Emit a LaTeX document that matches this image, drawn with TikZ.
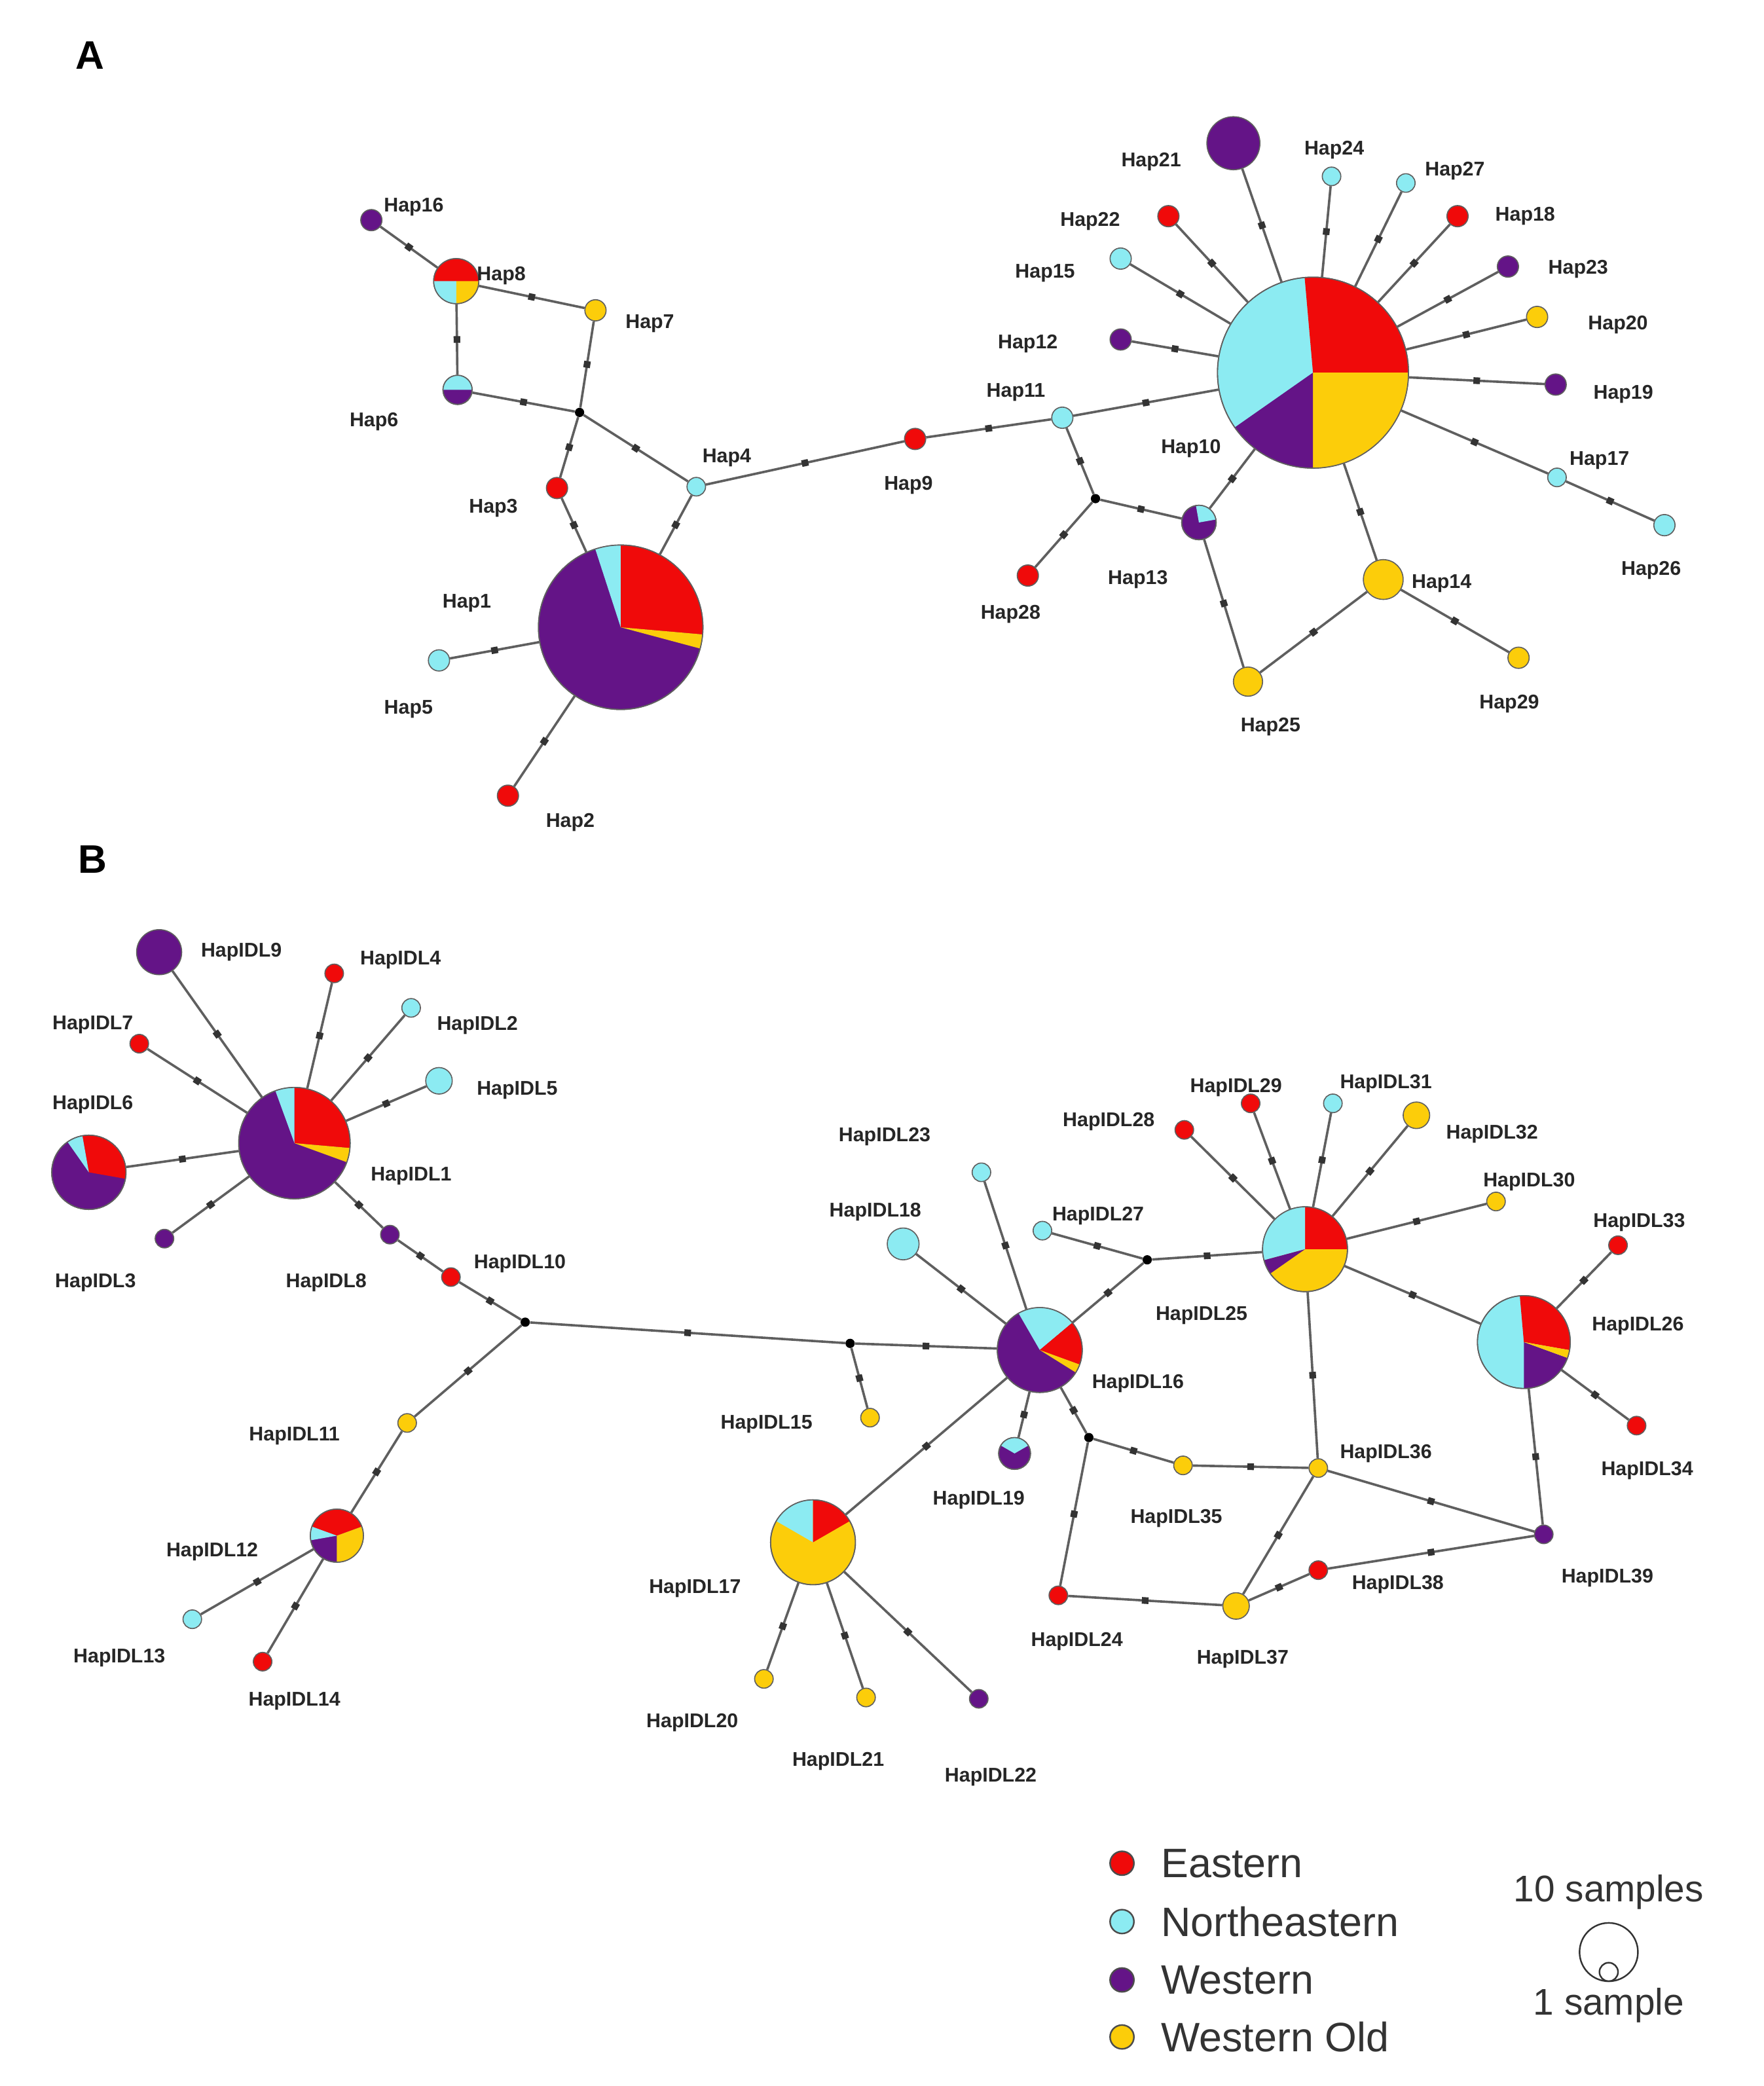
\documentclass[tikz,border=0pt]{standalone}
\usepackage{fontspec}
\setmainfont{Liberation Sans}
\usetikzlibrary{decorations.markings,backgrounds}
\definecolor{cE}{RGB}{240,10,10}
\definecolor{cN}{RGB}{140,235,242}
\definecolor{cW}{RGB}{100,20,135}
\definecolor{cO}{RGB}{252,205,10}
\definecolor{eg}{RGB}{95,95,95}
\tikzset{
 hnode/.style={circle,draw=eg,line width=0.8pt,inner sep=0pt},
 jn/.style={circle,fill=black,inner sep=0pt,minimum size=7pt},
 lb/.style={font=\bfseries\fontsize{15}{15}\selectfont,text=black!85},
 ed/.style={draw=eg,line width=1.8pt,postaction={decorate},
   decoration={markings,mark=at position 0.5 with {\fill[black!80] (-2.5pt,-2.5pt) rectangle (2.5pt,2.5pt);}}},
 outl/.style={draw=eg,line width=0.8pt}
}
\newcommand\hn[5]{\node[hnode,minimum size=#4*2pt,fill=#5] (#1) at (#2,#3) {};}
\newcommand\wedgeX[5]{\fill[#5] (#1.center) -- ++(#3:#2pt) arc[start angle=#3,end angle=#4,radius=#2pt] -- cycle;}
\newcommand\ring[2]{\draw[outl] (#1.center) circle[radius=#2pt];}
\begin{document}
\begin{tikzpicture}[x=1pt,y=-1pt]
\useasboundingbox (0,0) rectangle (1330,1573);
\node[font=\bfseries\fontsize{30}{30}\selectfont] (pA) at (68,42) {A};
\node[font=\bfseries\fontsize{30}{30}\selectfont] (pB) at (70,648) {B};
% ---------- Panel A nodes
\hn{h1}{468}{473}{62}{cW}
\hn{h2}{383}{600}{8}{cE}
\hn{h5}{331}{498}{8}{cN}
\hn{h3}{420}{368}{8}{cE}
\hn{h4}{525}{367}{7}{cN}
\node[jn] (j1) at (437,311) {};
\hn{h6}{345}{294}{11}{cW}
\hn{h8}{344}{212}{17}{cE}
\hn{h16}{280}{166}{8}{cW}
\hn{h7}{449}{234}{8}{cO}
\hn{h9}{690}{331}{8}{cE}
\hn{h11}{801}{315}{8}{cN}
\node[jn] (j2) at (826,376) {};
\hn{h28}{775}{434}{8}{cE}
\hn{h13}{904}{394}{13}{cW}
\hn{h10}{990}{281}{72}{cN}
\hn{h21}{930}{108}{20}{cW}
\hn{h24}{1004}{133}{7}{cN}
\hn{h27}{1060}{138}{7}{cN}
\hn{h22}{881}{163}{8}{cE}
\hn{h18}{1099}{163}{8}{cE}
\hn{h15}{845}{195}{8}{cN}
\hn{h23}{1137}{201}{8}{cW}
\hn{h20}{1159}{239}{8}{cO}
\hn{h12}{845}{256}{8}{cW}
\hn{h19}{1173}{290}{8}{cW}
\hn{h17}{1174}{360}{7}{cN}
\hn{h26}{1255}{396}{8}{cN}
\hn{h14}{1043}{437}{15}{cO}
\hn{h29}{1145}{496}{8}{cO}
\hn{h25}{941}{514}{11}{cO}
% pies A
\wedgeX{h1}{62}{-5}{90}{cE}\wedgeX{h1}{62}{-15}{-5}{cO}\wedgeX{h1}{62}{90}{108}{cN}\ring{h1}{62}
\wedgeX{h10}{72}{0}{95}{cE}\wedgeX{h10}{72}{-90}{0}{cO}\wedgeX{h10}{72}{215}{270}{cW}\ring{h10}{72}
\wedgeX{h8}{17}{0}{180}{cE}\wedgeX{h8}{17}{180}{270}{cN}\wedgeX{h8}{17}{270}{360}{cO}\ring{h8}{17}
\wedgeX{h6}{11}{0}{180}{cN}\ring{h6}{11}
\wedgeX{h13}{13}{10}{100}{cN}\ring{h13}{13}
% labels A
\node[lb] (l1) at (352,455) {Hap1};
\node[lb] (l2) at (430,620) {Hap2};
\node[lb] (l3) at (372,383) {Hap3};
\node[lb] (l4) at (548,345) {Hap4};
\node[lb] (l5) at (308,535) {Hap5};
\node[lb] (l6) at (282,318) {Hap6};
\node[lb] (l7) at (490,244) {Hap7};
\node[lb] (l8) at (378,208) {Hap8};
\node[lb] (l9) at (685,366) {Hap9};
\node[lb] (l10) at (898,338) {Hap10};
\node[lb] (l11) at (766,296) {Hap11};
\node[lb] (l12) at (775,259) {Hap12};
\node[lb] (l13) at (858,437) {Hap13};
\node[lb] (l14) at (1087,440) {Hap14};
\node[lb] (l15) at (788,206) {Hap15};
\node[lb] (l16) at (312,156) {Hap16};
\node[lb] (l17) at (1206,347) {Hap17};
\node[lb] (l18) at (1150,163) {Hap18};
\node[lb] (l19) at (1224,297) {Hap19};
\node[lb] (l20) at (1220,245) {Hap20};
\node[lb] (l21) at (868,122) {Hap21};
\node[lb] (l22) at (822,167) {Hap22};
\node[lb] (l23) at (1190,203) {Hap23};
\node[lb] (l24) at (1006,113) {Hap24};
\node[lb] (l25) at (958,548) {Hap25};
\node[lb] (l26) at (1245,430) {Hap26};
\node[lb] (l27) at (1097,129) {Hap27};
\node[lb] (l28) at (762,463) {Hap28};
\node[lb] (l29) at (1138,531) {Hap29};
% ---------- Panel B nodes
\hn{b1}{222}{862}{42}{cW}
\hn{b9}{120}{718}{17}{cW}
\hn{b4}{252}{734}{7}{cE}
\hn{b7}{105}{787}{7}{cE}
\hn{b2}{310}{760}{7}{cN}
\hn{b5}{331}{815}{10}{cN}
\hn{b6}{67}{884}{28}{cW}
\hn{b3}{124}{934}{7}{cW}
\hn{b8}{294}{931}{7}{cW}
\hn{b10}{340}{963}{7}{cE}
\node[jn] (j3) at (396,997) {};
\hn{b11}{307}{1073}{7}{cO}
\hn{b12}{254}{1158}{20}{cW}
\hn{b13}{145}{1221}{7}{cN}
\hn{b14}{198}{1253}{7}{cE}
\node[jn] (j4) at (641,1013) {};
\hn{b15}{656}{1069}{7}{cO}
\hn{b16}{784}{1018}{32}{cW}
\hn{b19}{765}{1096}{12}{cW}
\hn{b18}{681}{938}{12}{cN}
\hn{b23}{740}{884}{7}{cN}
\hn{b27}{786}{928}{7}{cN}
\node[jn] (j5) at (865,950) {};
\hn{b25}{984}{942}{32}{cO}
\hn{b28}{893}{852}{7}{cE}
\hn{b29}{943}{832}{7}{cE}
\hn{b31}{1005}{832}{7}{cN}
\hn{b32}{1068}{841}{10}{cO}
\hn{b30}{1128}{906}{7}{cO}
\hn{b26}{1149}{1012}{35}{cN}
\hn{b33}{1220}{939}{7}{cE}
\hn{b34}{1234}{1075}{7}{cE}
\node[jn] (j6) at (821,1084) {};
\hn{b35}{892}{1105}{7}{cO}
\hn{b36}{994}{1107}{7}{cO}
\hn{b39}{1164}{1157}{7}{cW}
\hn{b38}{994}{1184}{7}{cE}
\hn{b37}{932}{1211}{10}{cO}
\hn{b24}{798}{1203}{7}{cE}
\hn{b17}{613}{1163}{32}{cO}
\hn{b20}{576}{1266}{7}{cO}
\hn{b21}{653}{1280}{7}{cO}
\hn{b22}{738}{1281}{7}{cW}
% pies B
\wedgeX{b1}{42}{-5}{90}{cE}\wedgeX{b1}{42}{-20}{-5}{cO}\wedgeX{b1}{42}{90}{110}{cN}\ring{b1}{42}
\wedgeX{b6}{28}{-10}{100}{cE}\wedgeX{b6}{28}{100}{125}{cN}\ring{b6}{28}
\wedgeX{b12}{20}{20}{160}{cE}\wedgeX{b12}{20}{160}{190}{cN}\wedgeX{b12}{20}{270}{380}{cO}\ring{b12}{20}
\wedgeX{b16}{32}{40}{120}{cN}\wedgeX{b16}{32}{-20}{40}{cE}\wedgeX{b16}{32}{-32}{-20}{cO}\ring{b16}{32}
\wedgeX{b19}{12}{30}{150}{cN}\ring{b19}{12}
\wedgeX{b17}{32}{90}{150}{cN}\wedgeX{b17}{32}{30}{90}{cE}\ring{b17}{32}
\wedgeX{b25}{32}{0}{90}{cE}\wedgeX{b25}{32}{90}{195}{cN}\wedgeX{b25}{32}{195}{215}{cW}\ring{b25}{32}
\wedgeX{b26}{35}{-10}{95}{cE}\wedgeX{b26}{35}{270}{340}{cW}\wedgeX{b26}{35}{340}{350}{cO}\ring{b26}{35}
% labels B
\node[lb] (m1) at (310,887) {HapIDL1};
\node[lb] (m2) at (360,773) {HapIDL2};
\node[lb] (m3) at (72,967) {HapIDL3};
\node[lb] (m4) at (302,724) {HapIDL4};
\node[lb] (m5) at (390,822) {HapIDL5};
\node[lb] (m6) at (70,833) {HapIDL6};
\node[lb] (m7) at (70,773) {HapIDL7};
\node[lb] (m8) at (246,967) {HapIDL8};
\node[lb] (m9) at (182,718) {HapIDL9};
\node[lb] (m10) at (392,953) {HapIDL10};
\node[lb] (m11) at (222,1083) {HapIDL11};
\node[lb] (m12) at (160,1170) {HapIDL12};
\node[lb] (m13) at (90,1250) {HapIDL13};
\node[lb] (m14) at (222,1283) {HapIDL14};
\node[lb] (m15) at (578,1074) {HapIDL15};
\node[lb] (m16) at (858,1043) {HapIDL16};
\node[lb] (m17) at (524,1198) {HapIDL17};
\node[lb] (m18) at (660,914) {HapIDL18};
\node[lb] (m19) at (738,1131) {HapIDL19};
\node[lb] (m20) at (522,1299) {HapIDL20};
\node[lb] (m21) at (632,1328) {HapIDL21};
\node[lb] (m22) at (747,1340) {HapIDL22};
\node[lb] (m23) at (667,857) {HapIDL23};
\node[lb] (m24) at (812,1238) {HapIDL24};
\node[lb] (m25) at (906,992) {HapIDL25};
\node[lb] (m26) at (1235,1000) {HapIDL26};
\node[lb] (m27) at (828,917) {HapIDL27};
\node[lb] (m28) at (836,846) {HapIDL28};
\node[lb] (m29) at (932,820) {HapIDL29};
\node[lb] (m30) at (1153,891) {HapIDL30};
\node[lb] (m31) at (1045,817) {HapIDL31};
\node[lb] (m32) at (1125,855) {HapIDL32};
\node[lb] (m33) at (1236,922) {HapIDL33};
\node[lb] (m34) at (1242,1109) {HapIDL34};
\node[lb] (m35) at (887,1145) {HapIDL35};
\node[lb] (m36) at (1045,1096) {HapIDL36};
\node[lb] (m37) at (937,1251) {HapIDL37};
\node[lb] (m38) at (1054,1195) {HapIDL38};
\node[lb] (m39) at (1212,1190) {HapIDL39};
% legend
\node[hnode,draw=black!70,line width=1.2pt,fill=cE,minimum size=18pt] (g1) at (846,1405) {};
\node[hnode,draw=black!70,line width=1.2pt,fill=cN,minimum size=18pt] (g2) at (846,1449) {};
\node[hnode,draw=black!70,line width=1.2pt,fill=cW,minimum size=18pt] (g3) at (846,1493) {};
\node[hnode,draw=black!70,line width=1.2pt,fill=cO,minimum size=18pt] (g4) at (846,1536) {};
\node[anchor=west,font=\fontsize{31}{31}\selectfont,text=black!80] (t1) at (872,1405) {Eastern};
\node[anchor=west,font=\fontsize{31}{31}\selectfont,text=black!80] (t2) at (872,1449) {Northeastern};
\node[anchor=west,font=\fontsize{31}{31}\selectfont,text=black!80] (t3) at (872,1493) {Western};
\node[anchor=west,font=\fontsize{31}{31}\selectfont,text=black!80] (t4) at (872,1536) {Western Old};
\node[font=\fontsize{28}{28}\selectfont,text=black!80] (s10) at (1213,1427) {10 samples};
\node[circle,draw=black!80,line width=1.2pt,minimum size=44pt,inner sep=0pt] (c10) at (1213,1472) {};
\node[circle,draw=black!80,line width=1.2pt,minimum size=14pt,inner sep=0pt] (c1) at (1213,1487) {};
\node[font=\fontsize{28}{28}\selectfont,text=black!80] (s1) at (1213,1512) {1 sample};
% ---------- edges
\begin{pgfonlayer}{background}
\foreach \a/\b in {h16/h8,h8/h6,h8/h7,h6/j1,h7/j1,j1/h3,j1/h4,h3/h1,h4/h1,h5/h1,h2/h1,h4/h9,h9/h11,h11/h10,h11/j2,j2/h28,j2/h13,h13/h10,h21/h10,h24/h10,h27/h10,h22/h10,h18/h10,h15/h10,h23/h10,h20/h10,h12/h10,h19/h10,h17/h10,h17/h26,h10/h14,h14/h25,h14/h29,h25/h13,
b9/b1,b4/b1,b7/b1,b2/b1,b5/b1,b6/b1,b3/b1,b1/b8,b8/b10,b10/j3,j3/b11,b11/b12,b12/b13,b12/b14,j3/j4,j4/b15,j4/b16,b16/b18,b16/b23,b16/b19,b16/j5,j5/b27,j5/b25,b25/b28,b25/b29,b25/b31,b25/b32,b25/b30,b25/b26,b26/b33,b26/b34,b16/b17,b17/b20,b17/b21,b17/b22,b16/j6,j6/b35,j6/b24,b35/b36,b25/b36,b36/b37,b36/b39,b26/b39,b39/b38,b38/b37,b24/b37}
 \draw[ed] (\a) -- (\b);
\end{pgfonlayer}
\end{tikzpicture}
\end{document}
